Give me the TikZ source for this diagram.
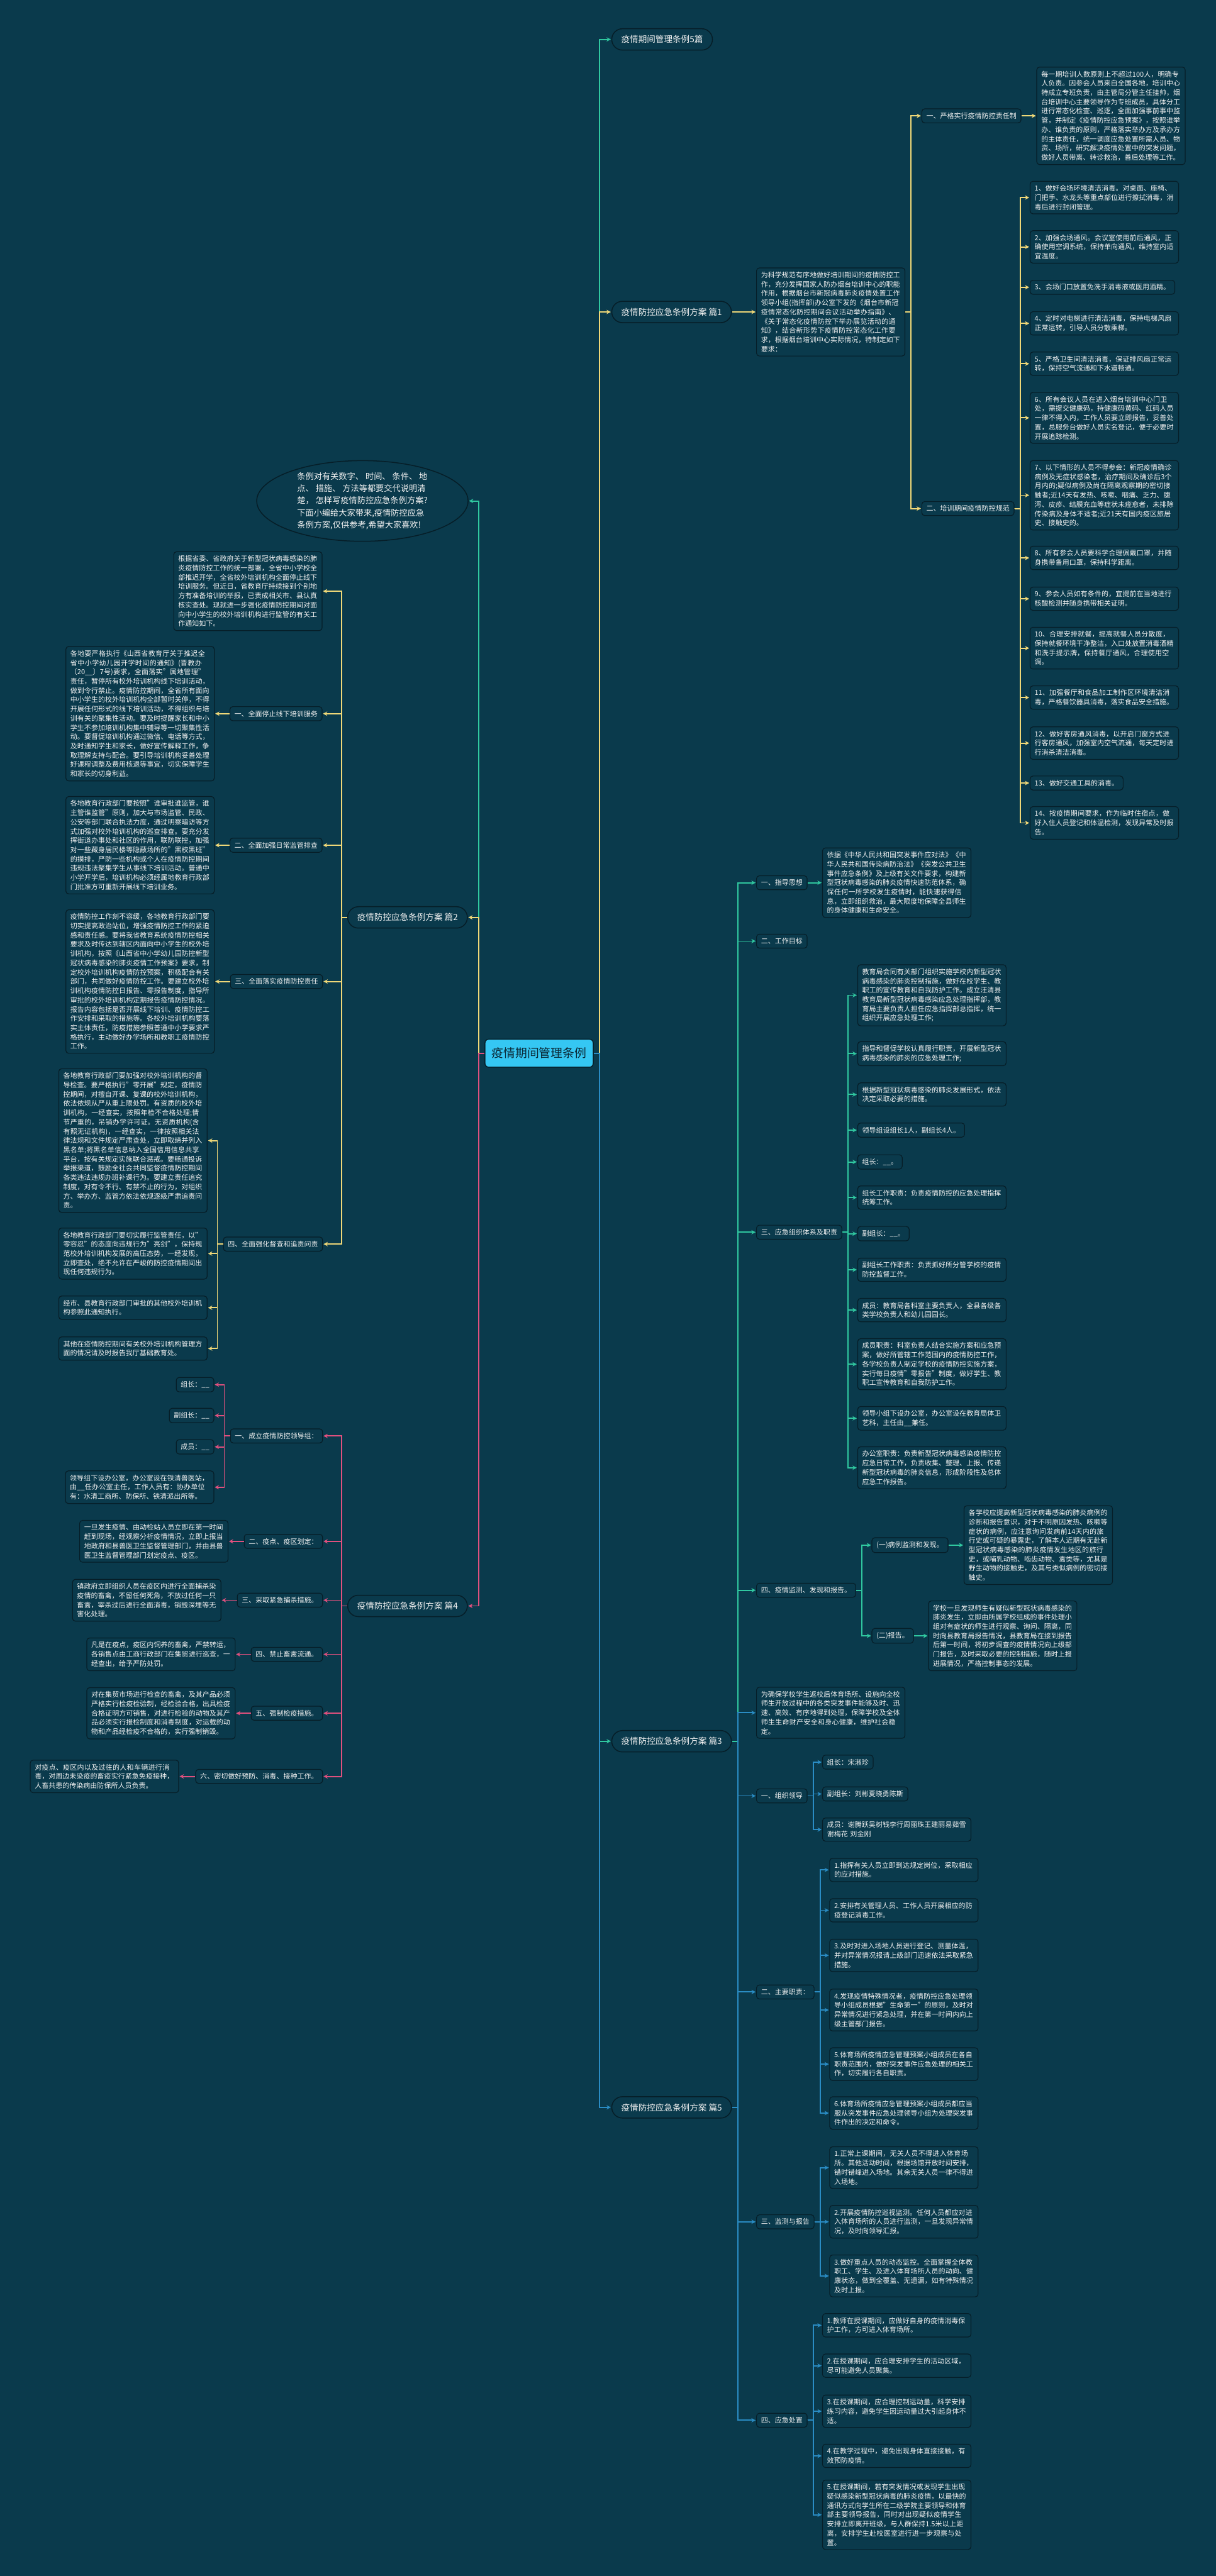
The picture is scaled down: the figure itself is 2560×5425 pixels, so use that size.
\documentclass[tikz,border=0pt]{standalone}
\usepackage{fontspec}
\setmainfont{Noto Sans CJK SC}
\usetikzlibrary{arrows.meta,shapes.geometric}
\XeTeXlinebreaklocale "zh"
\XeTeXlinebreakskip=0pt plus 1pt
\definecolor{bg}{HTML}{0A3A4C}
\definecolor{bord}{HTML}{061E28}
\definecolor{txtc}{HTML}{F2F2F2}
\definecolor{yel}{HTML}{F0D878}
\definecolor{teal}{HTML}{30C8A0}
\definecolor{blu}{HTML}{2A8CC4}
\definecolor{pnk}{HTML}{E0507E}
\definecolor{cyn}{HTML}{35C7F3}
\definecolor{dark}{HTML}{0B2A38}
\tikzset{
 box/.style={draw=bord, line width=1.6pt, rounded corners=6pt, fill=bg, text=txtc,
   font=\fontsize{14.6}{19.5}\selectfont, inner xsep=9.5pt, inner ysep=8pt},
 tbox/.style={box, text width=293.5pt, align=left},
 mainn/.style={draw=bord, line width=2pt, rounded corners=22.5pt, fill=bg, text=txtc,
   font=\fontsize{18}{22}\selectfont, inner xsep=20pt, minimum height=45pt},
 centern/.style={draw=bord, line width=2pt, rounded corners=8pt, fill=cyn, text=dark,
   font=\fontsize{25}{30}\selectfont, inner xsep=14pt, minimum height=59pt},
 conn/.style={line width=2.5pt, -{Stealth[length=9pt,width=9pt]}, shorten >=1pt},
}
\newcommand{\rconn}[3]{\draw[conn,#1] (#2.east) -- ++(12,0) |- (#3.west);}
\newcommand{\lconn}[3]{\draw[conn,#1] (#2.west) -- ++(-12,0) |- (#3.east);}
\begin{document}
\begin{tikzpicture}[x=1pt,y=-1pt]
\fill[bg] (0,0) rectangle (2560,5425);
\useasboundingbox (0,0) rectangle (2560,5425);

% ---------- main nodes ----------
\node[centern] (C) at (1135,2218) {疫情期间管理条例};
\node[mainn,anchor=west] (T0) at (1287,83) {疫情期间管理条例5篇};
\node[mainn,anchor=west] (T1) at (1287,657) {疫情防控应急条例方案 篇1};
\node[mainn,anchor=east] (T2) at (985,1932) {疫情防控应急条例方案 篇2};
\node[mainn,anchor=west] (T3) at (1287,3667) {疫情防控应急条例方案 篇3};
\node[mainn,anchor=east] (T4) at (985,3382) {疫情防控应急条例方案 篇4};
\node[mainn,anchor=west] (T5) at (1287,4438) {疫情防控应急条例方案 篇5};
\node[ellipse,draw=bord,line width=2pt,fill=bg,text=txtc,minimum width=445pt,minimum height=148pt,inner sep=0pt,
  font=\fontsize{17.5}{25.5}\selectfont,align=left] (TE) at (763,1055)
  {条例对有关数字、 时间、 条件、 地\\点、 措施、 方法等都要交代说明清\\楚， 怎样写疫情防控应急条例方案?\\下面小编给大家带来,疫情防控应急\\条例方案,仅供参考,希望大家喜欢!};

% ---------- 篇1 ----------
\node[tbox,anchor=west] (A0) at (1592,657) {为科学规范有序地做好培训期间的疫情防控工作，充分发挥国家人防办烟台培训中心的职能作用，根据烟台市新冠病毒肺炎疫情处置工作领导小组(指挥部)办公室下发的《烟台市新冠疫情常态化防控期间会议活动举办指南》、《关于常态化疫情防控下举办展览活动的通知》，结合新形势下疫情防控常态化工作要求，根据烟台培训中心实际情况，特制定如下要求：};
\node[box,anchor=west] (A1) at (1940,244) {一、严格实行疫情防控责任制};
\node[tbox,anchor=west] (A1a) at (2182,244) {每一期培训人数原则上不超过100人，明确专人负责。因参会人员来自全国各地，培训中心特成立专班负责，由主管局分管主任挂帅，烟台培训中心主要领导作为专班成员，具体分工进行常态化检查、巡逻，全面加强事前事中监管，并制定《疫情防控应急预案》，按照谁举办、谁负责的原则，严格落实举办方及承办方的主体责任，统一调度应急处置所需人员、物资、场所，研究解决疫情处置中的突发问题，做好人员带离、转诊救治，善后处理等工作。};
\node[box,anchor=west] (A2) at (1940,1071) {二、培训期间疫情防控规范};
\node[tbox,anchor=west] (B1) at (2168,416) {1、做好会场环境清洁消毒。对桌面、座椅、门把手、水龙头等重点部位进行擦拭消毒，消毒后进行封闭管理。};
\node[tbox,anchor=west] (B2) at (2168,520) {2、加强会场通风。会议室使用前后通风，正确使用空调系统，保持单向通风，维持室内适宜温度。};
\node[box,anchor=west] (B3) at (2168,605) {3、会场门口放置免洗手消毒液或医用酒精。};
\node[tbox,anchor=west] (B4) at (2168,681) {4、定时对电梯进行清洁消毒，保持电梯风扇正常运转，引导人员分散乘梯。};
\node[tbox,anchor=west] (B5) at (2168,766) {5、严格卫生间清洁消毒，保证排风扇正常运转，保持空气流通和下水道畅通。};
\node[tbox,anchor=west] (B6) at (2168,880) {6、所有会议人员在进入烟台培训中心门卫处，需提交健康码，持健康码黄码、红码人员一律不得入内，工作人员要立即报告，妥善处置，总服务台做好人员实名登记，便于必要时开展追踪检测。};
\node[tbox,anchor=west] (B7) at (2168,1043) {7、以下情形的人员不得参会：新冠疫情确诊病例及无症状感染者，治疗期间及确诊后3个月内的;疑似病例及尚在隔离观察期的密切接触者;近14天有发热、咳嗽、咽痛、乏力、腹泻、皮疹、结膜充血等症状未痊愈者，未排除传染病及身体不适者;近21天有国内疫区旅居史、接触史的。};
\node[tbox,anchor=west] (B8) at (2168,1175) {8、所有参会人员要科学合理佩戴口罩，并随身携带备用口罩，保持科学距离。};
\node[tbox,anchor=west] (B9) at (2168,1261) {9、参会人员如有条件的，宜提前在当地进行核酸检测并随身携带相关证明。};
\node[tbox,anchor=west] (B10) at (2168,1365) {10、合理安排就餐，提高就餐人员分散度，保持就餐环境干净整洁，入口处放置消毒酒精和洗手提示牌，保持餐厅通风，合理使用空调。};
\node[tbox,anchor=west] (B11) at (2168,1469) {11、加强餐厅和食品加工制作区环境清洁消毒，严格餐饮器具消毒，落实食品安全措施。};
\node[tbox,anchor=west] (B12) at (2168,1565) {12、做好客房通风消毒，以开启门窗方式进行客房通风，加强室内空气流通，每天定时进行消杀清洁消毒。};
\node[box,anchor=west] (B13) at (2168,1649) {13、做好交通工具的消毒。};
\node[tbox,anchor=west] (B14) at (2168,1733) {14、按疫情期间要求，作为临时住宿点，做好入住人员登记和体温检测，发现异常及时报告。};

% ---------- 篇2 ----------
\node[tbox,anchor=east] (D0) at (679,1245) {根据省委、省政府关于新型冠状病毒感染的肺炎疫情防控工作的统一部署，全省中小学校全部推迟开学，全省校外培训机构全面停止线下培训服务。但近日，省教育厅持续接到个别地方有准备培训的举报，已责成相关市、县认真核实查处。现就进一步强化疫情防控期间对面向中小学生的校外培训机构进行监管的有关工作通知如下。};
\node[box,anchor=east] (D1) at (679,1503) {一、全面停止线下培训服务};
\node[tbox,anchor=east] (D1a) at (452,1503) {各地要严格执行《山西省教育厅关于推迟全省中小学幼儿园开学时间的通知》(晋教办〔20\_\_〕7号)要求，全面落实"属地管理"责任，暂停所有校外培训机构线下培训活动，做到令行禁止。疫情防控期间，全省所有面向中小学生的校外培训机构全部暂时关停，不得开展任何形式的线下培训活动，不得组织与培训有关的聚集性活动。要及时提醒家长和中小学生不参加培训机构集中辅导等一切聚集性活动。要督促培训机构通过微信、电话等方式，及时通知学生和家长，做好宣传解释工作，争取理解支持与配合。要引导培训机构妥善处理好课程调整及费用核退等事宜，切实保障学生和家长的切身利益。};
\node[box,anchor=east] (D2) at (679,1780) {二、全面加强日常监管排查};
\node[tbox,anchor=east] (D2a) at (452,1780) {各地教育行政部门要按照"谁审批谁监管，谁主管谁监管"原则，加大与市场监管、民政、公安等部门联合执法力度，通过明察暗访等方式加强对校外培训机构的巡查排查。要充分发挥街道办事处和社区的作用，联防联控，加强对一些藏身居民楼等隐蔽场所的"黑校黑班"的摸排，严防一些机构或个人在疫情防控期间违规违法聚集学生从事线下培训活动。普通中小学开学后，培训机构必须经属地教育行政部门批准方可重新开展线下培训业务。};
\node[box,anchor=east] (D3) at (680,2067) {三、全面落实疫情防控责任};
\node[tbox,anchor=east] (D3a) at (452,2067) {疫情防控工作刻不容缓，各地教育行政部门要切实提高政治站位，增强疫情防控工作的紧迫感和责任感。要将我省教育系统疫情防控相关要求及时传达到辖区内面向中小学生的校外培训机构，按照《山西省中小学幼儿园防控新型冠状病毒感染的肺炎疫情工作预案》要求，制定校外培训机构疫情防控预案，积极配合有关部门，共同做好疫情防控工作。要建立校外培训机构疫情防控日报告、零报告制度，指导所审批的校外培训机构定期报告疫情防控情况。报告内容包括是否开展线下培训、疫情防控工作安排和采取的措施等。各校外培训机构要落实主体责任，防疫措施参照普通中小学要求严格执行，主动做好办学场所和教职工疫情防控工作。};
\node[box,anchor=east] (D4) at (680,2620) {四、全面强化督查和追责问责};
\node[tbox,anchor=east] (D4a) at (437,2402) {各地教育行政部门要加强对校外培训机构的督导检查。要严格执行"零开展"规定，疫情防控期间，对擅自开课、复课的校外培训机构，依法依规从严从重上限处罚。有资质的校外培训机构，一经查实，按照年检不合格处理;情节严重的，吊销办学许可证。无资质机构(含有照无证机构)，一经查实，一律按照相关法律法规和文件规定严肃查处，立即取缔并列入黑名单;将黑名单信息纳入全国信用信息共享平台，按有关规定实施联合惩戒。要畅通投诉举报渠道，鼓励全社会共同监督疫情防控期间各类违法违规办班补课行为。要建立责任追究制度，对有令不行、有禁不止的行为，对组织方、举办方、监管方依法依规逐级严肃追责问责。};
\node[tbox,anchor=east] (D4b) at (437,2640) {各地教育行政部门要切实履行监管责任，以"零容忍"的态度向违规行为"亮剑"，保持规范校外培训机构发展的高压态势，一经发现，立即查处，绝不允许在严峻的防控疫情期间出现任何违规行为。};
\node[tbox,anchor=east] (D4c) at (437,2754) {经市、县教育行政部门审批的其他校外培训机构参照此通知执行。};
\node[tbox,anchor=east] (D4d) at (437,2840) {其他在疫情防控期间有关校外培训机构管理方面的情况请及时报告我厅基础教育处。};

% ---------- 篇4 ----------
\node[box,anchor=east] (F1) at (680,3024) {一、成立疫情防控领导组：};
\node[box,anchor=east] (F1a) at (451,2916) {组长：\_\_};
\node[box,anchor=east] (F1b) at (451,2981) {副组长：\_\_};
\node[box,anchor=east] (F1c) at (451,3047) {成员：\_\_};
\node[tbox,anchor=east] (F1d) at (451,3132) {领导组下设办公室，办公室设在铁清兽医站，由\_\_任办公室主任，工作人员有：协办单位有：水清工商所、防保所、铁清派出所等。};
\node[box,anchor=east] (F2) at (680,3246) {二、疫点、疫区划定：};
\node[tbox,anchor=east] (F2a) at (481,3246) {一旦发生疫情、由动检站人员立即在第一时间赶到现场，经观察分析疫情情况，立即上报当地政府和县兽医卫生监督管理部门，并由县兽医卫生监督管理部门划定疫点、疫区。};
\node[box,anchor=east] (F3) at (680,3370) {三、采取紧急捕杀措施。};
\node[tbox,anchor=east] (F3a) at (466,3370) {镇政府立即组织人员在疫区内进行全面捕杀染疫情的畜禽，不留任何死角，不放过任何一只畜禽，宰杀过后进行全面消毒，销毁深埋等无害化处理。};
\node[box,anchor=east] (F4) at (680,3484) {四、禁止畜禽流通。};
\node[tbox,anchor=east] (F4a) at (496,3484) {凡是在疫点，疫区内饲养的畜禽，严禁转运，各销售点由工商行政部门在集贸进行巡查，一经查出，给予严防处罚。};
\node[box,anchor=east] (F5) at (680,3608) {五、强制检疫措施。};
\node[tbox,anchor=east] (F5a) at (496,3608) {对在集贸市场进行检查的畜禽，及其产品必须严格实行检疫检验制，经检验合格，出具检疫合格证明方可销售，对进行检验的动物及其产品必须实行报检制度和消毒制度，对运载的动物和产品经检疫不合格的，实行强制销毁。};
\node[box,anchor=east] (F6) at (680,3741) {六、密切做好预防、消毒、接种工作。};
\node[tbox,anchor=east] (F6a) at (377,3741) {对疫点、疫区内以及过往的人和车辆进行消毒，对周边未染疫的畜疫实行紧急免疫接种，人畜共患的传染病由防保所人员负责。};

% ---------- 篇3 ----------
\node[box,anchor=west] (G1) at (1592,1859) {一、指导思想};
\node[tbox,anchor=west] (G1a) at (1731,1859) {依据《中华人民共和国突发事件应对法》《中华人民共和国传染病防治法》《突发公共卫生事件应急条例》及上级有关文件要求，构建新型冠状病毒感染的肺炎疫情快速防范体系，确保任何一所学校发生疫情时，能快速获得信息，立即组织救治，最大限度地保障全县师生的身体健康和生命安全。};
\node[box,anchor=west] (G2) at (1592,1982) {二、工作目标};
\node[box,anchor=west] (G3) at (1592,2595) {三、应急组织体系及职责};
\node[tbox,anchor=west] (H1) at (1805,2096) {教育局会同有关部门组织实施学校内新型冠状病毒感染的肺炎控制措施，做好在校学生、教职工的宣传教育和自我防护工作。成立汪清县教育局新型冠状病毒感染应急处理指挥部，教育局主要负责人担任应急指挥部总指挥，统一组织开展应急处理工作;};
\node[tbox,anchor=west] (H2) at (1805,2219) {指导和督促学校认真履行职责，开展新型冠状病毒感染的肺炎的应急处理工作;};
\node[tbox,anchor=west] (H3) at (1805,2305) {根据新型冠状病毒感染的肺炎发展形式，依法决定采取必要的措施。};
\node[box,anchor=west] (H4) at (1805,2380) {领导组设组长1人，副组长4人。};
\node[box,anchor=west] (H5) at (1805,2447) {组长：\_\_。};
\node[tbox,anchor=west] (H6) at (1805,2522) {组长工作职责：负责疫情防控的应急处理指挥统筹工作。};
\node[box,anchor=west] (H7) at (1805,2598) {副组长：\_\_。};
\node[tbox,anchor=west] (H8) at (1805,2674) {副组长工作职责：负责抓好所分管学校的疫情防控监督工作。};
\node[tbox,anchor=west] (H9) at (1805,2759) {成员：教育局各科室主要负责人，全县各级各类学校负责人和幼儿园园长。};
\node[tbox,anchor=west] (H10) at (1805,2873) {成员职责：科室负责人结合实施方案和应急预案，做好所管辖工作范围内的疫情防控工作，各学校负责人制定学校的疫情防控实施方案，实行每日疫情"零报告"制度，做好学生、教职工宣传教育和自我防护工作。};
\node[tbox,anchor=west] (H11) at (1805,2987) {领导小组下设办公室，办公室设在教育局体卫艺科，主任由\_\_兼任。};
\node[tbox,anchor=west] (H12) at (1805,3091) {办公室职责：负责新型冠状病毒感染疫情防控应急日常工作，负责收集、整理、上报、传递新型冠状病毒的肺炎信息，形成阶段性及总体应急工作报告。};
\node[box,anchor=west] (G4) at (1592,3349) {四、疫情监测、发现和报告。};
\node[box,anchor=west] (K1) at (1835,3254) {(一)病例监测和发现。};
\node[tbox,anchor=west] (K1a) at (2029,3254) {各学校应提高新型冠状病毒感染的肺炎病例的诊断和报告意识，对于不明原因发热、咳嗽等症状的病例，应注意询问发病前14天内的旅行史或可疑的暴露史，了解本人近期有无赴新型冠状病毒感染的肺炎疫情发生地区的旅行史，或哺乳动物、啮齿动物、禽类等，尤其是野生动物的接触史，及其与类似病例的密切接触史。};
\node[box,anchor=west] (K2) at (1835,3445) {(二)报告。};
\node[tbox,anchor=west] (K2a) at (1954,3445) {学校一旦发现师生有疑似新型冠状病毒感染的肺炎发生，立即由所属学校组成的事件处理小组对有症状的师生进行观察、询问、隔离，同时向县教育局报告情况，县教育局在接到报告后第一时间，将初步调查的疫情情况向上级部门报告，及时采取必要的控制措施，随时上报进展情况，严格控制事态的发展。};

% ---------- 篇5 ----------
\node[tbox,anchor=west] (M0) at (1592,3607) {为确保学校学生返校后体育场所、设施向全校师生开放过程中的各类突发事件能够及时、迅速、高效、有序地得到处理，保障学校及全体师生生命财产安全和身心健康，维护社会稳定。};
\node[box,anchor=west] (M1) at (1592,3782) {一、组织领导};
\node[box,anchor=west] (M1a) at (1731,3711) {组长：宋淑珍};
\node[box,anchor=west] (M1b) at (1731,3778) {副组长：刘彬夏晓勇陈斯};
\node[tbox,anchor=west] (M1c) at (1731,3853) {成员：谢腾跃吴树钱李行周丽珠王建丽易茹雪 谢梅花 刘金刚};
\node[box,anchor=west] (M2) at (1592,4195) {二、主要职责：};
\node[tbox,anchor=west] (N1) at (1746,3938) {1.指挥有关人员立即到达规定岗位，采取相应的应对措施。};
\node[tbox,anchor=west] (N2) at (1746,4023) {2.安排有关管理人员、工作人员开展相应的防疫登记消毒工作。};
\node[tbox,anchor=west] (N3) at (1746,4118) {3.及时对进入场地人员进行登记、测量体温，并对异常情况报请上级部门迅速依法采取紧急措施。};
\node[tbox,anchor=west] (N4) at (1746,4233) {4.发现疫情特殊情况者，疫情防控应急处理领导小组成员根据"生命第一"的原则，及时对异常情况进行紧急处理，并在第一时间内向上级主管部门报告。};
\node[tbox,anchor=west] (N5) at (1746,4347) {5.体育场所疫情应急管理预案小组成员在各自职责范围内，做好突发事件应急处理的相关工作，切实履行各自职责。};
\node[tbox,anchor=west] (N6) at (1746,4450) {6.体育场所疫情应急管理预案小组成员都应当服从突发事件应急处理领导小组为处理突发事件作出的决定和命令。};
\node[box,anchor=west] (M3) at (1592,4679) {三、监测与报告};
\node[tbox,anchor=west] (P1) at (1746,4565) {1.正常上课期间，无关人员不得进入体育场所。其他活动时间，根据场馆开放时间安排，错时错峰进入场地。其余无关人员一律不得进入场地。};
\node[tbox,anchor=west] (P2) at (1746,4679) {2.开展疫情防控巡视监测。任何人员都应对进入体育场所的人员进行监测，一旦发现异常情况，及时向领导汇报。};
\node[tbox,anchor=west] (P3) at (1746,4793) {3.做好重点人员的动态监控。全面掌握全体教职工、学生、及进入体育场所人员的动向、健康状态，做到全覆盖、无遗漏，如有特殊情况及时上报。};
\node[box,anchor=west] (M4) at (1592,5097) {四、应急处置};
\node[tbox,anchor=west] (Q1) at (1731,4897) {1.教师在授课期间，应做好自身的疫情消毒保护工作，方可进入体育场所。};
\node[tbox,anchor=west] (Q2) at (1731,4982) {2.在授课期间，应合理安排学生的活动区域，尽可能避免人员聚集。};
\node[tbox,anchor=west] (Q3) at (1731,5078) {3.在授课期间，应合理控制运动量，科学安排练习内容，避免学生因运动量过大引起身体不适。};
\node[tbox,anchor=west] (Q4) at (1731,5172) {4.在教学过程中，避免出现身体直接接触，有效预防疫情。};
\node[tbox,anchor=west] (Q5) at (1731,5296) {5.在授课期间，若有突发情况或发现学生出现疑似感染新型冠状病毒的肺炎疫情，以最快的通讯方式向学生所在二级学院主要领导和体育部主要领导报告，同时对出现疑似疫情学生安排立即离开班级，与人群保持1.5米以上距离，安排学生赴校医室进行进一步观察与处置。};

% ---------- connectors from centre ----------
\rconn{teal}{C}{T0}
\rconn{teal}{C}{T3}
\rconn{yel}{C}{T1}
\rconn{blu}{C}{T5}
\lconn{teal}{C}{TE}
\lconn{yel}{C}{T2}
\lconn{pnk}{C}{T4}

% 篇1
\rconn{yel}{T1}{A0}
\rconn{yel}{A0}{A1}
\rconn{yel}{A0}{A2}
\rconn{yel}{A1}{A1a}
\foreach \b in {B1,B2,B3,B4,B5,B6,B7,B8,B9,B10,B11,B12,B13,B14} {\rconn{yel}{A2}{\b}}

% 篇2
\foreach \b in {D0,D1,D2,D3,D4} {\lconn{yel}{T2}{\b}}
\lconn{yel}{D1}{D1a}
\lconn{yel}{D2}{D2a}
\lconn{yel}{D3}{D3a}
\foreach \b in {D4a,D4b,D4c,D4d} {\lconn{yel}{D4}{\b}}

% 篇4
\foreach \b in {F1,F2,F3,F4,F5,F6} {\lconn{pnk}{T4}{\b}}
\foreach \b in {F1a,F1b,F1c,F1d} {\lconn{pnk}{F1}{\b}}
\lconn{pnk}{F2}{F2a}
\lconn{pnk}{F3}{F3a}
\lconn{pnk}{F4}{F4a}
\lconn{pnk}{F5}{F5a}
\lconn{pnk}{F6}{F6a}

% 篇3
\foreach \b in {G1,G2,G3,G4} {\rconn{teal}{T3}{\b}}
\rconn{teal}{G1}{G1a}
\foreach \b in {H1,H2,H3,H4,H5,H6,H7,H8,H9,H10,H11,H12} {\rconn{teal}{G3}{\b}}
\rconn{teal}{G4}{K1}
\rconn{teal}{G4}{K2}
\rconn{teal}{K1}{K1a}
\rconn{teal}{K2}{K2a}

% 篇5
\foreach \b in {M0,M1,M2,M3,M4} {\rconn{blu}{T5}{\b}}
\foreach \b in {M1a,M1b,M1c} {\rconn{blu}{M1}{\b}}
\foreach \b in {N1,N2,N3,N4,N5,N6} {\rconn{blu}{M2}{\b}}
\foreach \b in {P1,P2,P3} {\rconn{blu}{M3}{\b}}
\foreach \b in {Q1,Q2,Q3,Q4,Q5} {\rconn{blu}{M4}{\b}}
\end{tikzpicture}
\end{document}
